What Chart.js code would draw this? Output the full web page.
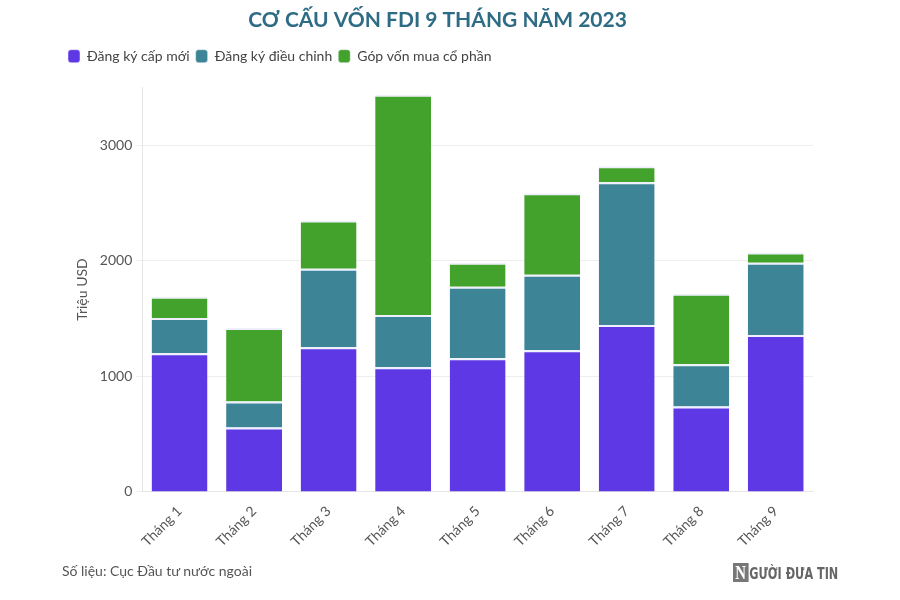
<!DOCTYPE html>
<html>
<head>
<meta charset="utf-8">
<script src="https://cdn.jsdelivr.net/npm/chart.js@4"></script>
<style>
  body { margin: 0; background: #fff; font-family: Lato, sans-serif; }
  #wrap { position: relative; width: 900px; height: 600px; }
  #note { position: absolute; left: 62px; top: 562px; font-size: 14px; color: #555; }
  #logo { position: absolute; left: 733px; top: 563px; font-size: 16px; color: #666; font-family: "Liberation Sans Narrow", "DejaVu Sans Condensed", sans-serif; font-weight: bold; transform: scaleX(0.78); transform-origin: left center; white-space: nowrap; }
  #logo b { display: inline-block; background: #777; color: #fff; font-family: "Liberation Serif", serif; font-size: 19px; padding: 0 3px; margin-right: 1px; line-height: 19px; }
</style>
</head>
<body>
<div id="wrap">
  <canvas id="fdiChart" width="900" height="600"></canvas>
  <div id="note">Số liệu: Cục Đầu tư nước ngoài</div>
  <div id="logo"><b>N</b>GƯỜI ĐƯA TIN</div>
</div>
<script>
const months = ['Tháng 1', 'Tháng 2', 'Tháng 3', 'Tháng 4', 'Tháng 5', 'Tháng 6', 'Tháng 7', 'Tháng 8', 'Tháng 9'];
const newReg = [1200, 557, 1252, 1078, 1157, 1226, 1443, 739, 1357];
const adjReg = [304, 226, 678, 452, 617, 652, 1235, 365, 626];
const shareBuy = [183, 634, 418, 1905, 209, 705, 139, 609, 87];
const yTicks = [0, 1000, 2000, 3000];

// push the plot down a bit below the legend
const legendMargin = {
    id: 'legendMargin',
    beforeInit(chart) {
        const fit = chart.legend.fit;
        chart.legend.fit = function () {
            fit.bind(chart.legend)();
            this.height += 14;
        };
    }
};

const fdiCanvas = document.getElementById('fdiChart');
const fdiChart = new Chart(fdiCanvas, {
    type: 'bar',
    data: {
        labels: months,
        datasets: [
            { label: 'Đăng ký cấp mới', data: newReg, backgroundColor: '#5e38e4' },
            { label: 'Đăng ký điều chỉnh', data: adjReg, backgroundColor: '#3d8596' },
            { label: 'Góp vốn mua cổ phần', data: shareBuy, backgroundColor: '#43a22b' }
        ].map(d => Object.assign(d, {
            borderColor: '#eef0ff',
            borderWidth: { top: 2 },
            borderSkipped: 'bottom',
            barPercentage: 0.75,
            categoryPercentage: 1
        }))
    },
    plugins: [legendMargin],
    options: {
        responsive: false,
        animation: false,
        layout: { padding: { left: 62, right: 87, top: 4, bottom: 47 } },
        plugins: {
            title: {
                display: true,
                text: 'CƠ CẤU VỐN FDI 9 THÁNG NĂM 2023',
                color: '#2e6b85',
                font: { family: 'Lato', size: 21, weight: 'bold' },
                padding: { top: 4, bottom: 10 }
            },
            legend: {
                align: 'start',
                labels: {
                    color: '#444',
                    font: { family: 'Lato', size: 14 },
                    boxWidth: 12,
                    boxHeight: 13,
                    useBorderRadius: true,
                    borderRadius: 3,
                    padding: 6
                }
            },
            tooltip: { enabled: false }
        },
        scales: {
            x: {
                stacked: true,
                grid: { display: false },
                border: { color: '#e6e6e6' },
                ticks: {
                    color: '#555',
                    font: { family: 'Lato', size: 14 },
                    maxRotation: 45,
                    minRotation: 45
                }
            },
            y: {
                stacked: true,
                min: 0,
                max: 3500,
                afterBuildTicks: scale => { scale.ticks = yTicks.map(v => ({ value: v })); },
                grid: { color: '#eeeeee', tickLength: 6 },
                border: { display: true, color: '#e6e6e6' },
                ticks: {
                    color: '#555',
                    font: { family: 'Lato', size: 14 },
                    padding: 4,
                    callback: v => String(v)
                },
                title: {
                    display: true,
                    text: 'Triệu USD',
                    color: '#555',
                    font: { family: 'Lato', size: 14 },
                    padding: { top: 12, bottom: 5 }
                }
            }
        }
    }
});
</script>
</body>
</html>
